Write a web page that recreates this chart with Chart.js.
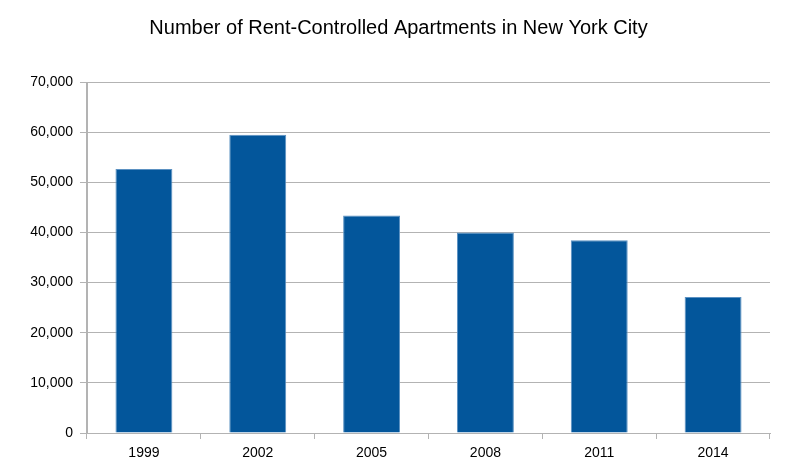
<!DOCTYPE html>
<html>
<head>
<meta charset="utf-8">
<script src="https://cdn.jsdelivr.net/npm/chart.js@4"></script>
<style>
  html, body { margin: 0; padding: 0; background: #fff; }
  #wrap { width: 797px; height: 475px; }
</style>
</head>
<body>
<div id="wrap"><canvas id="rentChart"></canvas></div>
<script>
var years = ['1999', '2002', '2005', '2008', '2011', '2014'];
var apartments = [52640, 59500, 43400, 40000, 38420, 27120];
var yTicks = [0, 10000, 20000, 30000, 40000, 50000, 60000, 70000];

var gridGray = '#b3b3b3';
var fontFamily = '"Liberation Sans", Arial, sans-serif';

window.onload = function() {
    var ctx = document.getElementById('rentChart').getContext('2d');
    new Chart(ctx, {
        type: 'bar',
        data: {
            labels: years,
            datasets: [{
                label: 'Rent-controlled apartments',
                data: apartments,
                backgroundColor: '#03569b',
                borderColor: '#5b91c2',
                borderWidth: 1,
                categoryPercentage: 1.0,
                barPercentage: 0.5
            }]
        },
        options: {
            responsive: true,
            maintainAspectRatio: false,
            animation: false,
            scales: {
                x: {
                    grid: {
                        offset: true,
                        drawOnChartArea: true,
                        // only the outer frame lines, tick marks everywhere
                        color: function(c) {
                            return (c.index === 0 || c.index === years.length) ? gridGray : 'rgba(0,0,0,0)';
                        },
                        tickColor: gridGray,
                        tickLength: 6
                    },
                    border: { color: gridGray },
                    ticks: {
                        color: '#000',
                        padding: 6,
                        font: { size: 14, family: fontFamily }
                    },
                    afterFit: function(scale) { scale.height = 42; }
                },
                y: {
                    min: 0,
                    max: 70000,
                    afterBuildTicks: function(scale) {
                        scale.ticks = yTicks.map(function(v) { return { value: v }; });
                    },
                    grid: {
                        color: gridGray,
                        tickColor: gridGray,
                        tickLength: 7
                    },
                    border: { color: gridGray },
                    ticks: {
                        color: '#000',
                        padding: 7,
                        font: { size: 14, family: fontFamily },
                        callback: function(v) { return v.toLocaleString('en-US'); }
                    },
                    afterFit: function(scale) { scale.width = 87; }
                },
                // empty right margin so the title stays centred on the page
                spacer: {
                    type: 'linear',
                    position: 'right',
                    display: true,
                    grid: { display: false },
                    border: { display: false },
                    ticks: { display: false },
                    afterFit: function(scale) { scale.width = 27; }
                }
            },
            plugins: {
                legend: { display: false },
                tooltip: { enabled: false },
                title: {
                    display: true,
                    text: 'Number of Rent-Controlled Apartments in New York City',
                    color: '#000',
                    font: { size: 20, family: fontFamily, weight: 'normal' },
                    padding: { top: 16, bottom: 42 }
                }
            }
        }
    });
};
</script>
</body>
</html>
